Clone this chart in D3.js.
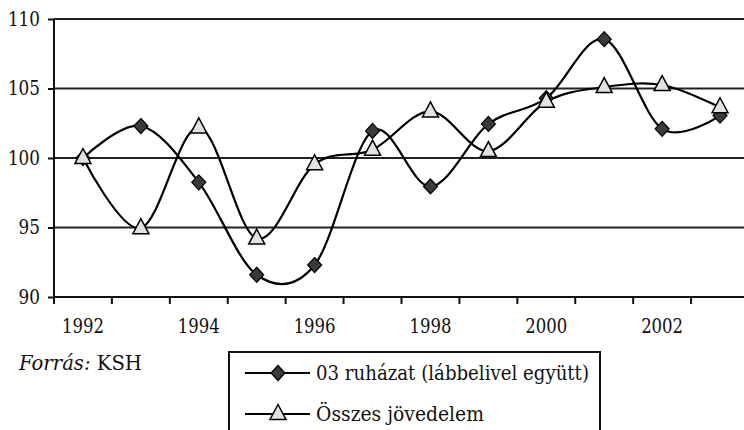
<!DOCTYPE html>
<html>
<head>
<meta charset="utf-8">
<script src="https://cdn.jsdelivr.net/npm/d3@7"></script>
<style>
  body { margin: 0; background: #fff; }
</style>
</head>
<body>
<script>
// data
var years = [1992, 1993, 1994, 1995, 1996, 1997, 1998, 1999, 2000, 2001, 2002, 2003];
var ruhazat = [100, 102.3, 98.25, 91.6, 92.3, 101.95, 97.95, 102.45, 104.3, 108.55, 102.1, 103.05];
var jovedelem = [100, 94.95, 102.2, 94.2, 99.55, 100.6, 103.35, 100.5, 104.05, 105.1, 105.25, 103.65];
var yTicks = [90, 95, 100, 105, 110];
var xLabels = [1992, 1994, 1996, 1998, 2000, 2002];
var seriesNames = ["03 ruházat (lábbelivel együtt)", "Összes jövedelem"];

(function () {
    var w = 744, h = 430;
    var plotLeft = 54, plotRight = 749, plotTop = 19, plotBottom = 297;
    var serif = "'DejaVu Serif', 'Liberation Serif', serif";

    var svg = d3.select("body").append("svg")
        .attr("width", w)
        .attr("height", h)
        .style("display", "block")
        .attr("font-family", serif);

    var x = d3.scaleBand()
        .domain(years)
        .range([plotLeft, plotRight])
        .padding(0);

    var y = d3.scaleLinear()
        .domain([90, 110])
        .range([plotBottom, plotTop]);

    var cx = function (i) { return x(years[i]) + x.bandwidth() / 2; };

    //gridlines
    svg.append("g")
        .selectAll("line")
        .data(yTicks.slice(1))
        .enter()
        .append("line")
        .attr("x1", plotLeft)
        .attr("x2", w)
        .attr("y1", function (d) { return y(d); })
        .attr("y2", function (d) { return y(d); })
        .attr("stroke", "#222")
        .attr("stroke-width", 2);

    //y axis
    var yAxis = svg.append("g")
        .attr("transform", "translate(" + plotLeft + ",0)")
        .call(d3.axisLeft(y).tickValues(yTicks).tickSize(6).tickPadding(8).tickFormat(d3.format("d")))
        .attr("font-family", serif);
    yAxis.select(".domain").attr("stroke", "#111").attr("stroke-width", 2).attr("d", "M0," + plotTop + "V" + plotBottom);
    yAxis.selectAll(".tick line").attr("stroke", "#111").attr("stroke-width", 2);
    yAxis.selectAll("text")
        .attr("font-size", 20)
        .attr("fill", "#111")
        .attr("lengthAdjust", "spacingAndGlyphs")
        .attr("textLength", function (d) { return String(d).length * 10.7; });

    //x axis: line, boundary ticks, labels every other year
    svg.append("line")
        .attr("x1", plotLeft).attr("x2", w)
        .attr("y1", plotBottom).attr("y2", plotBottom)
        .attr("stroke", "#111").attr("stroke-width", 2);

    svg.append("g")
        .selectAll("line")
        .data(years)
        .enter()
        .append("line")
        .attr("x1", function (d) { return x(d); })
        .attr("x2", function (d) { return x(d); })
        .attr("y1", plotBottom)
        .attr("y2", plotBottom + 7)
        .attr("stroke", "#111")
        .attr("stroke-width", 2);

    svg.append("g")
        .selectAll("text")
        .data(xLabels)
        .enter()
        .append("text")
        .attr("x", function (d) { return x(d) + x.bandwidth() / 2; })
        .attr("y", 333)
        .attr("text-anchor", "middle")
        .attr("font-size", 20)
        .attr("fill", "#111")
        .attr("lengthAdjust", "spacingAndGlyphs")
        .attr("textLength", 42)
        .text(function (d) { return d; });

    //smoothed lines
    var line = d3.line()
        .x(function (d, i) { return cx(i); })
        .y(function (d) { return y(d); })
        .curve(d3.curveCardinal.tension(0));

    [ruhazat, jovedelem].forEach(function (s) {
        svg.append("path")
            .datum(s)
            .attr("d", line)
            .attr("fill", "none")
            .attr("stroke", "#000")
            .attr("stroke-width", 2.2);
    });

    var diamond = "M0,-7.5L7,0L0,7.5L-7,0Z";
    var triangle = "M0,-8.5L8,6.5L-8,6.5Z";

    svg.append("g")
        .selectAll("path")
        .data(ruhazat)
        .enter()
        .append("path")
        .attr("d", diamond)
        .attr("transform", function (d, i) { return "translate(" + cx(i) + "," + y(d) + ")"; })
        .attr("fill", "#3a3a3a")
        .attr("stroke", "#000")
        .attr("stroke-width", 1.2);

    svg.append("g")
        .selectAll("path")
        .data(jovedelem)
        .enter()
        .append("path")
        .attr("d", triangle)
        .attr("transform", function (d, i) { return "translate(" + cx(i) + "," + (y(d) - 1) + ")"; })
        .attr("fill", "#e2e2e2")
        .attr("stroke", "#000")
        .attr("stroke-width", 1.5);

    //source note
    var src = svg.append("text")
        .attr("x", 19)
        .attr("y", 370)
        .attr("font-size", 20)
        .attr("fill", "#111")
        .attr("lengthAdjust", "spacingAndGlyphs")
        .attr("textLength", 123);
    src.append("tspan").attr("font-style", "italic").text("Forrás:");
    src.append("tspan").text(" KSH");

    //legend
    var lg = svg.append("g");
    lg.append("rect")
        .attr("x", 229).attr("y", 352)
        .attr("width", 371).attr("height", 100)
        .attr("fill", "#fff")
        .attr("stroke", "#111")
        .attr("stroke-width", 2);

    var rows = [373, 414];
    var textLens = [273, 168];
    rows.forEach(function (ry, i) {
        lg.append("line")
            .attr("x1", 245).attr("x2", 310)
            .attr("y1", ry).attr("y2", ry)
            .attr("stroke", "#000").attr("stroke-width", 2.2);
        lg.append("path")
            .attr("d", i === 0 ? diamond : triangle)
            .attr("transform", "translate(278," + (i === 0 ? ry : ry - 1) + ")")
            .attr("fill", i === 0 ? "#3a3a3a" : "#e2e2e2")
            .attr("stroke", "#000")
            .attr("stroke-width", i === 0 ? 1.2 : 1.5);
        lg.append("text")
            .attr("x", 316)
            .attr("y", ry + 7)
            .attr("font-size", 20)
            .attr("fill", "#111")
            .attr("lengthAdjust", "spacingAndGlyphs")
            .attr("textLength", textLens[i])
            .text(seriesNames[i]);
    });
})();
</script>
</body>
</html>
